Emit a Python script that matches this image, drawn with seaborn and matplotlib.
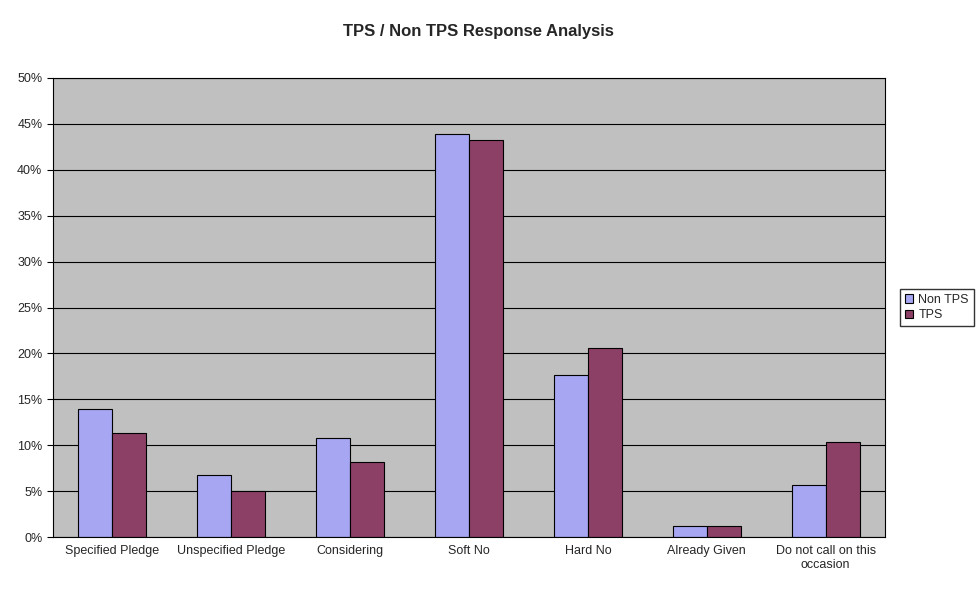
import numpy as np
import pandas as pd
import seaborn as sns
import matplotlib.pyplot as plt
from matplotlib.ticker import FixedLocator, FuncFormatter

categories = ["Specified Pledge", "Unspecified Pledge", "Considering", "Soft No",
              "Hard No", "Already Given", "Do not call on this\noccasion"]
non_tps = [13.9, 6.75, 10.8, 43.9, 17.6, 1.2, 5.7]
tps = [11.3, 5.0, 8.2, 43.2, 20.6, 1.2, 10.3]

df = pd.DataFrame({
    "category": categories * 2,
    "value": non_tps + tps,
    "series": ["Non TPS"] * len(categories) + ["TPS"] * len(categories),
})

sns.set_style("white")
plt.rcParams["font.family"] = ["Liberation Sans", "DejaVu Sans"]

fig = plt.figure(figsize=(9.77, 6), dpi=100)
ax = fig.add_axes([0.054, 0.105, 0.852, 0.765])
ax.set_facecolor("#C0C0C0")
sns.barplot(data=df, x="category", y="value", hue="series",
            palette=["#9999FF", "#993366"], width=0.57,
            edgecolor="black", linewidth=0.8, ax=ax)

ax.set_ylim(0, 50)
ax.set_xlim(-0.5, len(categories) - 0.5)
ax.set_yticks(np.arange(0, 51, 5))
ax.yaxis.set_major_formatter(FuncFormatter(lambda v, p: f"{int(v)}%"))
ax.yaxis.grid(True, color="black", linewidth=0.8)
ax.set_axisbelow(True)
ax.tick_params(axis="both", labelsize=9, length=4, direction="out", color="black")
ax.tick_params(axis="x", length=0, pad=6)
ax.xaxis.set_minor_locator(FixedLocator(np.arange(-0.5, len(categories), 1)))
ax.tick_params(axis="x", which="minor", length=4, color="black")
ax.yaxis.tick_left()
for s in ax.spines.values():
    s.set_color("black")
    s.set_linewidth(0.8)
ax.set_xlabel("")
ax.set_ylabel("")

fig.suptitle("TPS / Non TPS Response Analysis", x=0.49, y=0.96,
             fontsize=12, fontweight="bold")

ax.legend(loc="center left", bbox_to_anchor=(1.01, 0.5), fontsize=9,
          frameon=True, fancybox=False, edgecolor="black",
          handlelength=0.7, handleheight=0.7, handletextpad=0.4,
          borderpad=0.4, labelspacing=0.3)

fig.savefig("out.png", dpi=100)
